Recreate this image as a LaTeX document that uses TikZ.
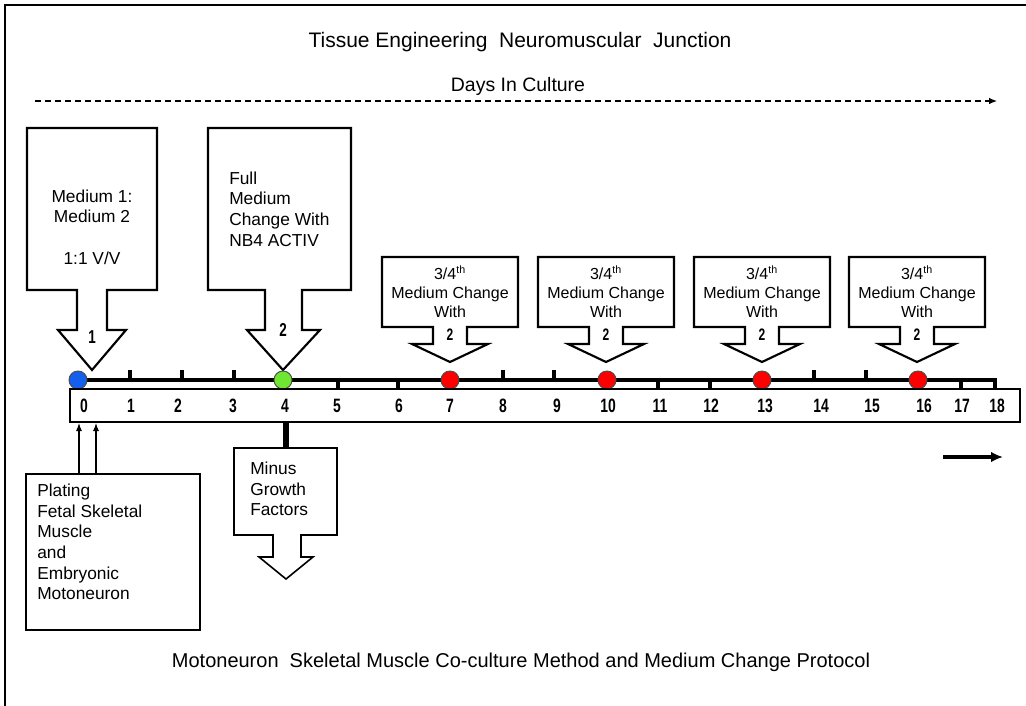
\documentclass[tikz,border=0pt]{standalone}
\usepackage{fontspec}
\setmainfont{Liberation Sans}
\newfontfamily\numfont{Liberation Sans}[FakeStretch=0.72]
\usetikzlibrary{arrows.meta}
\begin{document}
\begin{tikzpicture}[x=0.75pt,y=-0.75pt,
  frameline/.style={line width=1.2pt},
  callout/.style={draw, fill=white, line width=1.6pt, line join=miter},
  boxtext/.style={font=\fontsize{13}{15.5}\selectfont, inner sep=0pt},
  smalltext/.style={font=\fontsize{12}{14.2}\selectfont, inner sep=0pt, align=center},
  numlabel/.style={font=\numfont\bfseries\fontsize{14.5}{16}\selectfont, inner sep=0pt},
  calloutnum/.style={font=\numfont\bfseries\fontsize{14}{15}\selectfont, inner sep=0pt},
  smallnum/.style={font=\numfont\bfseries\fontsize{12.5}{13}\selectfont, inner sep=0pt},
  axisline/.style={line width=2.8pt},
  tick/.style={line width=2.4pt},
  dot/.style={circle, draw=black!70, line width=0.7pt, minimum size=13.5pt, inner sep=0pt},
]
\useasboundingbox (0,0) rectangle (1026,706);
% frame
\draw[frameline] (5,706) -- (5,5) -- (1026,5);

% titles
\node[font=\fontsize{15.75}{18}\selectfont] (title) at (520,42) {Tissue Engineering\ \ Neuromuscular\ \ Junction};
\node[font=\fontsize{14.6}{17}\selectfont] (days) at (518,86) {Days In Culture};
\coordinate (dstart) at (35,101);
\coordinate (dend) at (997,101);
\draw[line width=0.9pt, dash pattern=on 4.5pt off 3pt, -{Latex[length=6pt,width=5pt]}] (dstart) -- (dend);

% callout 1
\draw[callout] (27,128) -- (157,128) -- (157,290) -- (107,290) -- (107,330) -- (126,330) -- (92,370) -- (58,330) -- (77,330) -- (77,290) -- (27,290) -- cycle;
\node[boxtext, align=center] (c1text) at (92,227) {Medium 1:\\Medium 2\\[15.5pt]1:1 V/V};
\node[calloutnum] (c1num) at (92,337) {1};

% callout 2
\draw[callout] (208,128) -- (351,128) -- (351,290) -- (302,290) -- (302,330) -- (320,330) -- (283,370) -- (247,330) -- (265,330) -- (265,290) -- (208,290) -- cycle;
\node[boxtext, align=left, anchor=west] (c2text) at (229,209) {Full\\Medium\\Change With\\NB4 ACTIV};
\node[calloutnum] (c2num) at (283,330) {2};

% small callouts
\foreach \c/\nm in {450/a,606/b,762/c,917/d}{
  \draw[callout] (\c-68,257) -- (\c+68,257) -- (\c+68,327) -- (\c+17,327) -- (\c+17,344) -- (\c+38,344) -- (\c,362) -- (\c-38,344) -- (\c-17,344) -- (\c-17,327) -- (\c-68,327) -- cycle;
  \node[smalltext] (s\nm) at (\c,292) {3/4\textsuperscript{th}\\Medium Change\\With};
  \node[smallnum] (n\nm) at (\c,335) {2};
}

% axis
\coordinate (ax0) at (78,380);
\coordinate (axend) at (995,380);
\coordinate (axcorner) at (995,389);
\draw[axisline, line join=miter] (ax0) -- (axend) -- (axcorner);
\foreach \x in {130,182,234,503,554,814,866}{
  \draw[tick] (\x,380) -- (\x,370);
}
\foreach \x in {338,398,658,710,961}{
  \draw[tick] (\x,380) -- (\x,389);
}
\node[dot, fill={rgb,255:red,20;green,95;blue,235}] (d0) at (78,380) {};
\node[dot, fill={rgb,255:red,110;green,230;blue,50}] (d4) at (283,380) {};
\foreach \x/\nm in {450/7,607/10,762/13,918/16}{
  \node[dot, fill=red] (d\nm) at (\x,380) {};
}

% labels box
\node[draw, line width=1.5pt, minimum width=950*0.75pt, minimum height=33*0.75pt, inner sep=0pt] (labels) at (545,405.5) {};
\foreach \x/\t in {84/0,131/1,178/2,233/3,285/4,337/5,399/6,450/7,503/8,557/9,608/10,660/11,711/12,765/13,821/14,872/15,924/16,962/17,997/18}{
  \node[numlabel] (l\t) at (\x,406) {\t};
}

% plating
\node[draw, line width=1.2pt, minimum width=174*0.75pt, minimum height=156*0.75pt, inner sep=0pt] (plating) at (113,552) {};
\node[boxtext, align=left, anchor=west] (ptext) at (37,542) {Plating\\Fetal Skeletal\\Muscle\\and\\Embryonic\\Motoneuron};
\coordinate (p1) at (79,474);
\coordinate (p2) at (96,474);
\draw[line width=0.8pt, -{Latex[length=6pt,width=4.5pt]}] (p1) -- (p1 |- labels.south);
\draw[line width=0.8pt, -{Latex[length=6pt,width=4.5pt]}] (p2) -- (p2 |- labels.south);

% minus growth factors
\draw[callout, line width=1.2pt] (234,448) -- (337,448) -- (337,535) -- (301,535) -- (301,557) -- (313,557) -- (286,579) -- (259,557) -- (273,557) -- (273,535) -- (234,535) -- cycle;
\coordinate (mtop) at (286,448);
\draw[line width=5pt] (mtop) -- (mtop |- labels.south);
\node[boxtext, align=left, anchor=west] (mtext) at (250,489) {Minus\\Growth\\Factors};

% right arrow
\coordinate (rs) at (943,457);
\coordinate (re) at (1003,457);
\draw[line width=2.6pt, -{Latex[length=9pt,width=8pt]}] (rs) -- (re);

% caption
\node[font=\fontsize{15}{18}\selectfont] (caption) at (521,662) {Motoneuron\ \ Skeletal Muscle Co-culture Method and Medium Change Protocol};
\end{tikzpicture}
\end{document}
